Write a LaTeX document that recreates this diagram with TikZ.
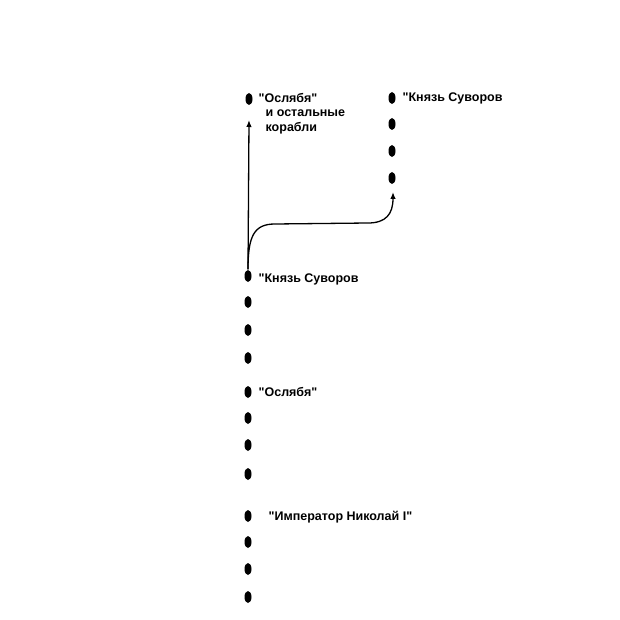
\documentclass[tikz,border=0pt]{standalone}
\usepackage{fontspec}
\setmainfont{Liberation Sans}
\usetikzlibrary{shapes.geometric,positioning,arrows.meta}
\begin{document}
\begin{tikzpicture}[x=1pt,y=-1pt,
  line width=1.3pt,ship node/.style={ellipse,fill,inner sep=0pt,minimum width=7pt,minimum height=12pt},
  name node/.style={font=\bfseries\fontsize{12.5}{14.5}\selectfont,inner sep=0pt,anchor=base west,align=left}]
  \useasboundingbox (0,0) rectangle (620,620);
  % left column
  \node[ship node] (1) at (249,99) {};
  \node[ship node] (5) at (248,276) {};
  \node[ship node] (6) at (248,302) {};
  \node[ship node] (7) at (248,330) {};
  \node[ship node] (8) at (248,358) {};
  \node[ship node] (9) at (248,392) {};
  \node[ship node] (10) at (248,418) {};
  \node[ship node] (11) at (248,445) {};
  \node[ship node] (12) at (248,474) {};
  \node[ship node] (13) at (248,516) {};
  \node[ship node] (14) at (248,542) {};
  \node[ship node] (15) at (248,569) {};
  \node[ship node] (16) at (248,597) {};
  % right column
  \node[ship node] (2) at (392,98) {};
  \node[ship node] (3) at (392,124) {};
  \node[ship node] (4) at (392,151) {};
  \node[ship node] (4b) at (392,178) {};

  \node[name node,anchor=north west] (n1) at (258,92.5) {\textquotedbl Ослябя\textquotedbl\\\hspace{7pt}и остальные\\\hspace{7pt}корабли};
  \node[name node] (n2) at (402,102) {\textquotedbl Князь Суворов};
  \node[name node] (n5) at (258,282) {\textquotedbl Князь Суворов};
  \node[name node] (n9) at (258,396) {\textquotedbl Ослябя\textquotedbl};
  \node[name node] (n13) at (268,520) {\textquotedbl Император Николай I\textquotedbl};

  \coordinate (a) at (249,120);
  \coordinate (b) at (275,224);
  \coordinate (c) at (368,223);
  \coordinate (d) at (393,192);
  \path[every edge/.style={draw,-{Latex[length=7pt,width=5.5pt]}}]
   (5.north) edge (a);
  \draw[-{Latex[length=7pt,width=5.5pt]}] (5.north) .. controls (248,236) and (254,224) .. (b)
   -- (c) .. controls (386,223) and (393,214) .. (d);
\end{tikzpicture}
\end{document}
